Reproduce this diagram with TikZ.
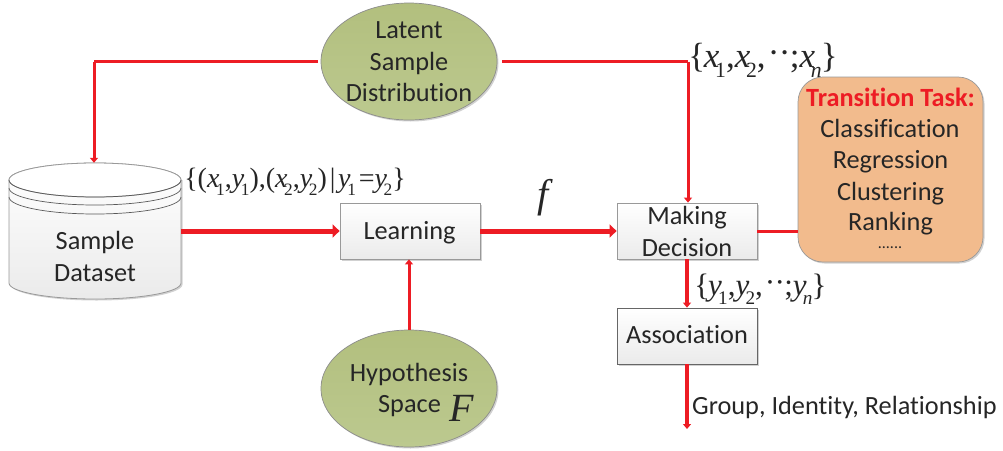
\documentclass[tikz,border=0pt]{standalone}
\usepackage{fontspec}
\setmainfont{Carlito}[Ligatures=NoCommon]
\newfontfamily\mathf{Liberation Serif}
\usetikzlibrary{arrows.meta,shadows,shapes.geometric,calc}
\definecolor{lred}{HTML}{ED1C24}
\definecolor{ink}{HTML}{262626}
\definecolor{olivetop}{HTML}{B2BF7E}
\definecolor{olivebot}{HTML}{BCC98F}
\definecolor{peach}{HTML}{F2BB8D}
\newcommand{\fsz}[2]{\fontsize{#1}{#2}\selectfont}
\newcommand{\vr}[1]{{\mathf\itshape #1}}
\newcommand{\sbs}[2]{\vr{#1}\kern-.12em\raisebox{-.28em}{\scalebox{.62}{\mathf\upshape #2}}}
\newcommand{\sbi}[2]{\vr{#1}\kern-.12em\raisebox{-.28em}{\scalebox{.62}{\mathf\itshape #2}}}
\newcommand{\twodots}{\kern.14em\raisebox{.24em}{\scalebox{.5}{\textbullet}}\kern.14em\raisebox{.24em}{\scalebox{.5}{\textbullet}}\kern.06em}
\tikzset{
  x=1pt,y=-1pt,
  softshadow/.style={drop shadow={shadow xshift=1.5pt,shadow yshift=-1.5pt,opacity=.18,fill=black}},
  procbox/.style={rectangle,draw=black!40,line width=.8pt,minimum width=140pt,minimum height=56pt,inner sep=0pt,
    top color=white,bottom color=black!8,softshadow,text=ink,align=center,font=\fsz{26.3}{31.5}},
  blob/.style={ellipse,draw=black!45,line width=.7pt,minimum width=176pt,minimum height=117pt,inner sep=0pt,
    top color=olivetop,bottom color=olivebot,softshadow,text=ink,align=center,font=\fsz{26.3}{31.5}},
  thinlink/.style={draw=lred,line width=3pt},
  midlink/.style={draw=lred,line width=3.8pt},
  fatlink/.style={draw=lred,line width=5pt},
  smalltip/.style={-{Triangle[length=5pt,width=8pt]}},
  bigtip/.style={-{Triangle[length=7pt,width=13pt]}},
  formula/.style={inner sep=0pt,text=ink,anchor=center},
  plaintext/.style={inner sep=0pt,text=ink,align=center,font=\fsz{26.3}{31.5}},
  baseline text/.style={plaintext,anchor=base},
}
\begin{document}
\begin{tikzpicture}
\useasboundingbox (0,0) rectangle (1003,450);
% cylinder
\fill[black!18] (10.5,180) -- (10.5,284.5) arc[start angle=180,end angle=360,x radius=86,y radius=-16] -- (182.5,180) -- cycle;
\path[draw=black!40,line width=.8pt,top color=white,bottom color=black!8]
  (9,180) -- (9,283) arc[start angle=180,end angle=360,x radius=86,y radius=-16] -- (181,180)
  arc[start angle=0,end angle=180,x radius=86,y radius=-17] -- cycle;
\draw[black!40,line width=.8pt,fill=white] (9,180) arc[start angle=180,end angle=-180,x radius=86,y radius=-17] -- cycle;
\draw[black!65,line width=.7pt] (9,180) arc[start angle=180,end angle=360,x radius=86,y radius=-17];
\draw[black!65,line width=.7pt] (9,188) arc[start angle=180,end angle=360,x radius=86,y radius=-17];
\draw[black!65,line width=.7pt] (9,197) arc[start angle=180,end angle=360,x radius=86,y radius=-17];
\node[rectangle,minimum width=172pt,minimum height=137pt,inner sep=0pt] (data) at (95,231.5) {};
\node[baseline text] (datatext1) at (95,249) {Sample};
\node[baseline text] (datatext2) at (95,281) {Dataset};

\node[blob] (latent) at (409,61.5) {};
\node[baseline text] (lat1) at (409,38) {Latent};
\node[baseline text] (lat2) at (409,70) {Sample};
\node[baseline text] (lat3) at (409,101) {Distribution};
\node[blob] (hypo) at (409,388.5) {};
\node[baseline text] (hypotext) at (409,381) {Hypothesis};
\node[baseline text] (spacetext) at (409.5,412) {Space};
\node[inner sep=0pt,text=ink,anchor=base] (bigf) at (462,421) {\fsz{40}{40}\mathf\itshape F};

\node[procbox] (learn) at (410,231) {};
\node[baseline text] (learntext) at (409.5,239) {Learning};
\node[procbox] (decide) at (687,231) {};
\node[baseline text] (dec1) at (687,224) {Making};
\node[baseline text] (dec2) at (687,256) {Decision};
\node[procbox,draw=black!60] (assoc) at (687,336) {};
\node[baseline text] (assoctext) at (687,343) {Association};
\node[rectangle,rounded corners=25pt,draw=black!40,line width=.7pt,fill=peach,softshadow,minimum width=185pt,minimum height=185pt,inner sep=0pt] (task) at (890.5,169.5) {};
\node[inner sep=0pt,text=lred,font=\fsz{26.3}{28}\bfseries,anchor=base] (tasktitle) at (890.5,106) {Transition Task:};
\node[baseline text] (t1) at (890,137) {Classification};
\node[baseline text] (t2) at (890.5,168) {Regression};
\node[baseline text] (t3) at (890.5,200) {Clustering};
\node[baseline text] (t4) at (890.5,230) {Ranking};
\node[baseline text,font=\fsz{16}{18}] (t5) at (890,248) {......};

% connectors
\coordinate (cornerL) at (94,61.5);
\coordinate (cornerR) at (688,61.5);
\draw[thinlink] ($(latent.west)+(-3,0)$) -- (cornerL);
\draw[thinlink,smalltip] (cornerL) -- (data.north -| cornerL);
\draw[thinlink] ($(latent.east)+(5,0)$) -- (cornerR);
\draw[thinlink,smalltip] (cornerR) -- (decide.north -| cornerR);
\draw[fatlink,bigtip] (data.east |- learn.west) -- (learn.west);
\draw[fatlink,bigtip] (learn.east) -- (decide.west);
\draw[thinlink,smalltip] (hypo.north) -- (learn.south -| hypo.north);
\draw[thinlink] (decide.east) -- (task.west |- decide.east);
\draw[midlink,smalltip] (decide.south) -- (assoc.north);
\coordinate (outend) at (687,429);
\draw[midlink,smalltip] (assoc.south) -- (outend);

% labels
\node[formula] (setxy) at (295,182) {\fsz{28}{30}\mathf\{(\sbs{x}{1},\sbs{y}{1}),(\sbs{x}{2},\sbs{y}{2})\kern.1em|\kern.1em\sbs{y}{1}\kern.1em=\sbs{y}{2}\}};
\node[formula] (setx) at (763,60) {\fsz{35}{38}\mathf\{\kern-.04em\sbs{x}{1},\sbs{x}{2},\twodots;\sbi{x}{n}\kern-.03em\}};
\node[formula] (sety) at (760.5,289) {\fsz{31}{35}\mathf\{\kern-.04em\sbs{y}{1},\sbs{y}{2},\twodots;\sbi{y}{n}\kern-.03em\}};
\node[formula] (smallf) at (543,198) {\fsz{40}{40}\mathf\itshape f};
\node[plaintext,anchor=base west] (outlabel) at (692,414) {Group, Identity, Relationship};
\end{tikzpicture}
\end{document}
